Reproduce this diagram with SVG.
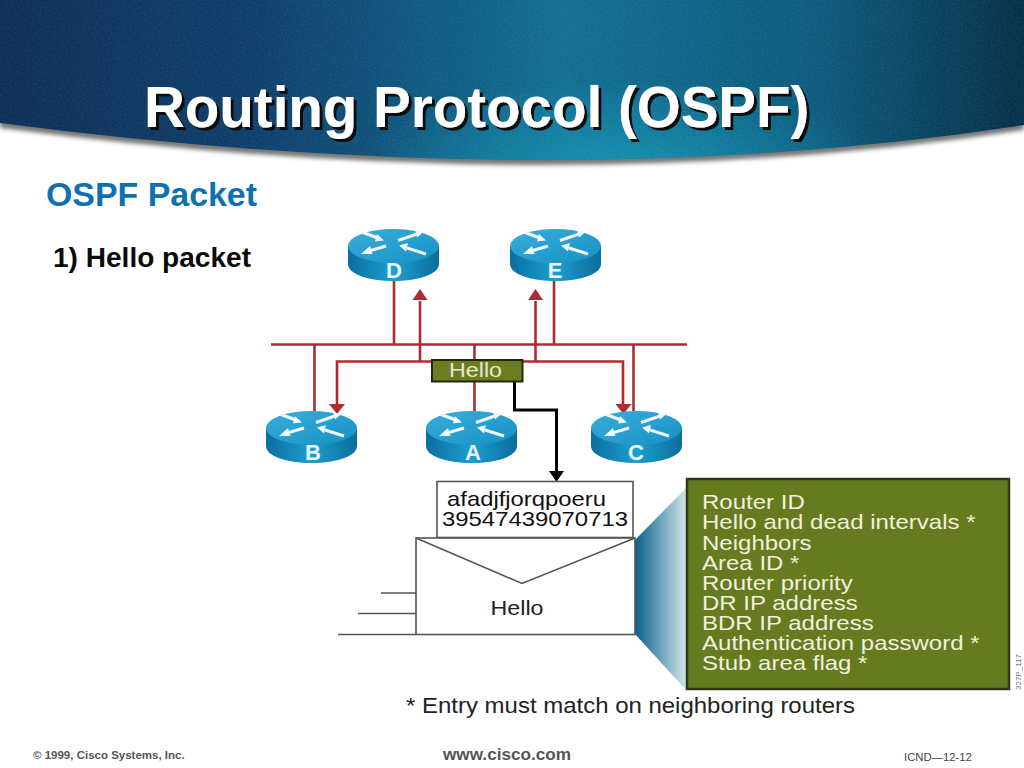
<svg xmlns="http://www.w3.org/2000/svg" xmlns:xlink="http://www.w3.org/1999/xlink" width="1024" height="768" viewBox="0 0 1024 768">
<style>
.s{font-family:"Liberation Sans",Arial,sans-serif}
.red{stroke:#b02a30;stroke-width:2.600;fill:none}
.blk{stroke:#000;stroke-width:3;fill:none}
.gr{stroke:#555;stroke-width:1.600;fill:none}
.rl{font-family:"Liberation Sans",Arial,sans-serif;font-size:22px;font-weight:700;fill:#eaf6fb;text-anchor:middle}
.lst{font-family:"Liberation Sans",Arial,sans-serif;font-size:21px;fill:#f0f0dc}
</style>
<defs>
<linearGradient id="hg" x1="0" y1="0" x2="1" y2="0">
<stop offset="0" stop-color="#0d2f57"/><stop offset=".25" stop-color="#0f3f6c"/><stop offset=".55" stop-color="#116f92"/><stop offset=".8" stop-color="#0e5a7c"/><stop offset="1" stop-color="#07304a"/>
</linearGradient>
<radialGradient id="hr" gradientUnits="userSpaceOnUse" cx="620" cy="170" r="260" gradientTransform="translate(0 110) scale(1 .35)">
<stop offset="0" stop-color="#1593b3" stop-opacity=".95"/><stop offset="1" stop-color="#1593b3" stop-opacity="0"/>
</radialGradient>
<linearGradient id="rs" x1="0" y1="0" x2="1" y2="0">
<stop offset="0" stop-color="#0a6f9f"/><stop offset=".5" stop-color="#1c9fd0"/><stop offset="1" stop-color="#0b6d9c"/>
</linearGradient>
<linearGradient id="rt" x1="0" y1="0" x2="1" y2="1">
<stop offset="0" stop-color="#3aaedb"/><stop offset="1" stop-color="#1590c4"/>
</linearGradient>
<linearGradient id="fan" x1="0" y1="0" x2="1" y2="0">
<stop offset="0" stop-color="#0a5f8c"/><stop offset="1" stop-color="#cfe6ea"/>
</linearGradient>
<filter id="bl" x="-5%" y="-20%" width="110%" height="140%"><feGaussianBlur stdDeviation="2"/></filter>
<filter id="ds" x="-5%" y="-10%" width="110%" height="130%"><feDropShadow dx="3" dy="3" stdDeviation=".6" flood-color="#111" flood-opacity="1"/></filter>
<filter id="tx" x="0" y="0" width="100%" height="100%">
<feTurbulence type="fractalNoise" baseFrequency=".55" numOctaves="2" seed="4"/>
<feColorMatrix values="0 0 0 0 1 0 0 0 0 1 0 0 0 0 1 1.4 0 0 0 -.55"/>
<feComposite in2="SourceAlpha" operator="in"/>
</filter>
<path id="hs" d="M0 0 H1024 V125 Q560 196 0 123 Z"/>
<symbol id="router" viewBox="0 0 91 52" width="91" height="52" overflow="visible">
<path d="M0 17 V35 C0 45 20 52 45.500 52 C71 52 91 45 91 35 V17 Z" fill="url(#rs)"/>
<ellipse cx="45.500" cy="17" rx="45.500" ry="17" fill="url(#rt)"/>
<g stroke="#eef8fc" stroke-width="3" fill="none">
<path d="M15 3.500 L30 9"/><path d="M50 11.500 L69 5"/><path d="M38 17 L23 21.500"/><path d="M78 25 L59 19"/>
</g>
<g fill="#eef8fc">
<path d="M36 11.500 L29 5 L27 12.500 Z"/>
<path d="M75 3.500 L67 1 L69 8.500 Z"/>
<path d="M13 25 L22 17 L24.500 25 Z"/>
<path d="M51 16.500 L60 14 L58 22.500 Z"/>
</g>
</symbol>
</defs>
<rect width="1024" height="768" fill="#fff"/>
<g id="header">
<use href="#hs" y="5" fill="#777" filter="url(#bl)"/>
<use href="#hs" fill="url(#hg)"/>
<use href="#hs" fill="url(#hr)"/>
<use href="#hs" fill="#000" filter="url(#tx)" opacity=".1"/>
<text class="s" x="144" y="127" font-size="56.500" font-weight="700" fill="#fff" filter="url(#ds)">Routing Protocol (OSPF)</text>
</g>
<text class="s" x="46" y="206" font-size="33.500" font-weight="700" fill="#0f70b0" textLength="211" lengthAdjust="spacingAndGlyphs">OSPF Packet</text>
<text class="s" x="53" y="267" font-size="27.500" font-weight="700" fill="#0a0a0a" textLength="198" lengthAdjust="spacingAndGlyphs">1) Hello packet</text>
<g id="connectors">
<path class="red" d="M271 344.500 H687"/>
<path class="red" d="M394 281 V344"/>
<path class="red" d="M554 281 V344"/>
<path class="red" d="M314.500 344 V411"/>
<path class="red" d="M474.500 344 V360"/>
<path class="red" d="M474.500 382 V411"/>
<path class="red" d="M633.500 344 V411"/>
<path class="red" d="M420 361 V301"/>
<path class="red" d="M535.500 361 V301"/>
<path class="red" d="M432 361.500 H337 V405"/>
<path class="red" d="M523 361.500 H623 V405"/>
<g fill="#b02a30">
<path d="M412.500 300 H427.500 L420 289 Z"/>
<path d="M528 300 H543 L535.500 289 Z"/>
<path d="M329 404 H345 L337 414 Z"/>
<path d="M615.500 404 H631.500 L623.500 414 Z"/>
</g>
<path class="blk" d="M514.500 382 V410 H556.500 V472"/>
<path d="M549 471 H564 L556.500 482 Z" fill="#000"/>
<path class="gr" d="M381 593 H416"/>
<path class="gr" d="M358 613.500 H416"/>
<path class="gr" d="M338 634.500 H416"/>
</g>
<g id="router-d"><use xlink:href="#router" href="#router" x="348" y="229"/><text class="rl" x="394" y="278">D</text></g>
<g id="router-e"><use xlink:href="#router" href="#router" x="510" y="229"/><text class="rl" x="555" y="278">E</text></g>
<g id="router-b"><use xlink:href="#router" href="#router" x="266" y="411"/><text class="rl" x="313" y="460">B</text></g>
<g id="router-a"><use xlink:href="#router" href="#router" x="426" y="411"/><text class="rl" x="473" y="460">A</text></g>
<g id="router-c"><use xlink:href="#router" href="#router" x="591" y="411"/><text class="rl" x="636" y="460">C</text></g>
<g id="hello-tag">
<rect x="432" y="360" width="90.500" height="21.500" fill="#6b7d1e" stroke="#1e2a10" stroke-width="2"/>
<text class="s" x="475.500" y="377" font-size="20" fill="#e6e6d2" text-anchor="middle" textLength="53" lengthAdjust="spacingAndGlyphs">Hello</text>
</g>
<g id="fan-out"><path d="M635 540 L686 488 V690 L635 634 Z" fill="url(#fan)"/></g>
<g id="letter">
<rect x="437" y="481.500" width="196" height="56" fill="#fff" stroke="#555" stroke-width="1.600"/>
<text class="s" x="447" y="506" font-size="21" fill="#111" textLength="159" lengthAdjust="spacingAndGlyphs">afadjfjorqpoeru</text>
<text class="s" x="442" y="526" font-size="21" fill="#111" textLength="186" lengthAdjust="spacingAndGlyphs">39547439070713</text>
</g>
<g id="envelope">
<rect x="416" y="538" width="219" height="96.500" fill="#fff" stroke="#555" stroke-width="1.600"/>
<path class="gr" d="M416 538 L522 583.500 L635 538"/>
<text class="s" x="517" y="615" font-size="21" fill="#222" text-anchor="middle" textLength="53" lengthAdjust="spacingAndGlyphs">Hello</text>
</g>
<g id="field-list">
<rect x="687" y="479" width="322" height="210" fill="#667b1f" stroke="#2e3a1a" stroke-width="2.500"/>
<g transform="scale(1.143 1)">
<text class="lst" x="614.200" y="509">Router ID</text>
<text class="lst" x="614.200" y="529">Hello and dead intervals *</text>
<text class="lst" x="614.200" y="550">Neighbors</text>
<text class="lst" x="614.200" y="570">Area ID *</text>
<text class="lst" x="614.200" y="590">Router priority</text>
<text class="lst" x="614.200" y="610">DR IP address</text>
<text class="lst" x="614.200" y="630">BDR IP address</text>
<text class="lst" x="614.200" y="650">Authentication password *</text>
<text class="lst" x="614.200" y="670">Stub area flag *</text>
</g>
</g>
<text class="s" transform="translate(1021 690) rotate(-90)" font-size="8" fill="#777">327P_117</text>
<text class="s" x="406" y="713" font-size="21.500" fill="#222" textLength="449" lengthAdjust="spacingAndGlyphs">* Entry must match on neighboring routers</text>
<g id="footer">
<text class="s" x="33" y="759" font-size="11.500" font-weight="700" fill="#555">© 1999, Cisco Systems, Inc.</text>
<text class="s" x="443" y="760" font-size="17" font-weight="700" fill="#555" textLength="128" lengthAdjust="spacingAndGlyphs">www.cisco.com</text>
<text class="s" x="904" y="761" font-size="11.300" fill="#444">ICND—12-12</text>
</g>
</svg>
